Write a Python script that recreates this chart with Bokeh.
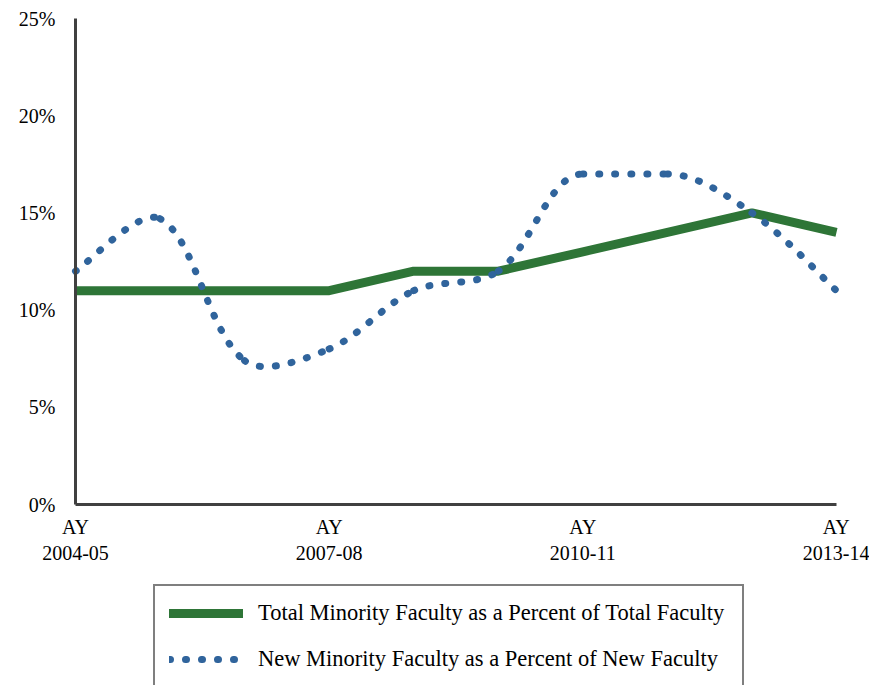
import math
import numpy as np
from bokeh.plotting import figure
from bokeh.models import Range1d, FixedTicker, Legend, LegendItem, ColumnDataSource
from bokeh.embed import file_html
from bokeh.resources import INLINE

# ---------------- data ----------------
year_labels = ["AY\n2004-05", "AY\n2005-06", "AY\n2006-07", "AY\n2007-08", "AY\n2008-09",
               "AY\n2009-10", "AY\n2010-11", "AY\n2011-12", "AY\n2012-13", "AY\n2013-14"]
year_index = list(range(len(year_labels)))
shown_year_ticks = [0, 3, 6, 9]
total_pct = [11, 11, 11, 11, 12, 12, 13, 14, 15, 14]
new_pct = [12, 14.7, 7.4, 8, 11, 12, 17, 17, 15, 11]
y_ticks = [0, 5, 10, 15, 20, 25]
y_tick_labels = ["0%", "5%", "10%", "15%", "20%", "25%"]
total_name = "Total Minority Faculty as a Percent of Total Faculty"
new_name = "New Minority Faculty as a Percent of New Faculty"

GREEN = "#2E7537"
BLUE = "#30649C"
FONT = "Liberation Serif"

# ---------------- layout (pixels) ----------------
W, H = 869, 685
PLOT_L, PLOT_R, PLOT_T, PLOT_B = 75, 836, 18, 504      # where the axes sit
px_x = (PLOT_R - PLOT_L) / (year_index[-1] - year_index[0])
px_y = (PLOT_B - PLOT_T) / (y_ticks[-1] - y_ticks[0])
x_start = year_index[0] - PLOT_L / px_x
x_end = year_index[-1] + (W - PLOT_R) / px_x
y_start = y_ticks[0] - (H - PLOT_B) / px_y
y_end = y_ticks[-1] + PLOT_T / px_y

# ------------- smoothed curve (bezier control points from data) -------------
n = len(new_pct)
def seglen(a, b):
    return math.hypot((year_index[b] - year_index[a]) * px_x, (new_pct[b] - new_pct[a]) * px_y)

cp_after, cp_before = {}, {}
for k in range(n):
    x, y = year_index[k], new_pct[k]
    if k == 0:
        cp_after[k] = (x + (year_index[1] - x) / 6, y + (new_pct[1] - y) / 6)
        continue
    if k == n - 1:
        cp_before[k] = (x - (x - year_index[k - 1]) / 6, y - (y - new_pct[k - 1]) / 6)
        continue
    tx = year_index[k + 1] - year_index[k - 1]
    ty = new_pct[k + 1] - new_pct[k - 1]
    if new_pct[k] == new_pct[k - 1] or new_pct[k] == new_pct[k + 1]:
        ty = 0.0
    l0, l1 = seglen(k - 1, k), seglen(k, k + 1)
    cp_after[k] = (x + tx * l1 / (l0 + l1) / 3, y + ty * l1 / (l0 + l1) / 3)
    cp_before[k] = (x - tx * l0 / (l0 + l1) / 3, y - ty * l0 / (l0 + l1) / 3)

seg = dict(x0=[], y0=[], x1=[], y1=[], cx0=[], cy0=[], cx1=[], cy1=[])
for k in range(n - 1):
    seg["x0"].append(year_index[k]); seg["y0"].append(new_pct[k])
    seg["x1"].append(year_index[k + 1]); seg["y1"].append(new_pct[k + 1])
    seg["cx0"].append(cp_after[k][0]); seg["cy0"].append(cp_after[k][1])
    seg["cx1"].append(cp_before[k + 1][0]); seg["cy1"].append(cp_before[k + 1][1])
bez_src = ColumnDataSource(seg)
tot_src = ColumnDataSource(dict(x=year_index, y=total_pct))

# ---------------- figure ----------------
p = figure(width=W, height=H, output_backend="svg", toolbar_location=None,
           x_range=Range1d(x_start, x_end), y_range=Range1d(y_start, y_end),
           min_border_left=0, min_border_right=0, min_border_top=0, min_border_bottom=0)
p.outline_line_color = None
p.xgrid.visible = False
p.ygrid.visible = False
p.background_fill_color = "white"
p.border_fill_color = "white"

p.line("x", "y", source=tot_src, line_width=9, line_color=GREEN,
       line_cap="butt", line_join="round")
p.bezier(x0="x0", y0="y0", x1="x1", y1="y1", cx0="cx0", cy0="cy0",
         cx1="cx1", cy1="cy1", source=bez_src, line_color=BLUE, line_width=7,
         line_dash="1 15", line_cap="round")

# legend samples (same styles, rounded ends as in the legend); no visible data
nan2 = np.array([np.nan, np.nan])
leg_total = p.line(x=nan2, y=nan2, line_width=9, line_color=GREEN, line_cap="round")
leg_new = p.line(x=nan2, y=nan2, line_width=7, line_color=BLUE, line_dash="1 15",
                 line_cap="round")

for ax in (p.xaxis[0], p.yaxis[0]):
    ax.axis_line_color = "#404040"
    ax.axis_line_width = 3
    ax.major_tick_line_color = None
    ax.minor_tick_line_color = None
    ax.major_label_text_font = FONT
    ax.major_label_text_font_size = "20px"
    ax.major_label_text_color = "black"

p.xaxis[0].fixed_location = y_ticks[0]
p.xaxis[0].bounds = (year_index[0], year_index[-1])
p.xaxis[0].ticker = FixedTicker(ticks=shown_year_ticks)
p.xaxis[0].major_label_overrides = {i: year_labels[i] for i in shown_year_ticks}
p.xaxis[0].major_label_standoff = 5
p.yaxis[0].fixed_location = year_index[0]
p.yaxis[0].bounds = (y_ticks[0], y_ticks[-1])
p.yaxis[0].ticker = FixedTicker(ticks=y_ticks)
p.yaxis[0].major_label_overrides = {t: l for t, l in zip(y_ticks, y_tick_labels)}
p.yaxis[0].major_label_standoff = 14

legend = Legend(items=[LegendItem(label=total_name, renderers=[leg_total]),
                       LegendItem(label=new_name, renderers=[leg_new])],
                location=(153, -3), orientation="vertical",
                padding=14, spacing=20, margin=0,
                glyph_width=74, glyph_height=20, label_height=20, label_width=470,
                label_standoff=15, label_text_font=FONT, label_text_font_size="22.5px",
                label_text_color="black", border_line_color="black", border_line_width=2,
                background_fill_color="white", background_fill_alpha=1.0)
p.add_layout(legend, "center")

open("out.html", "w").write(file_html(p, INLINE))
